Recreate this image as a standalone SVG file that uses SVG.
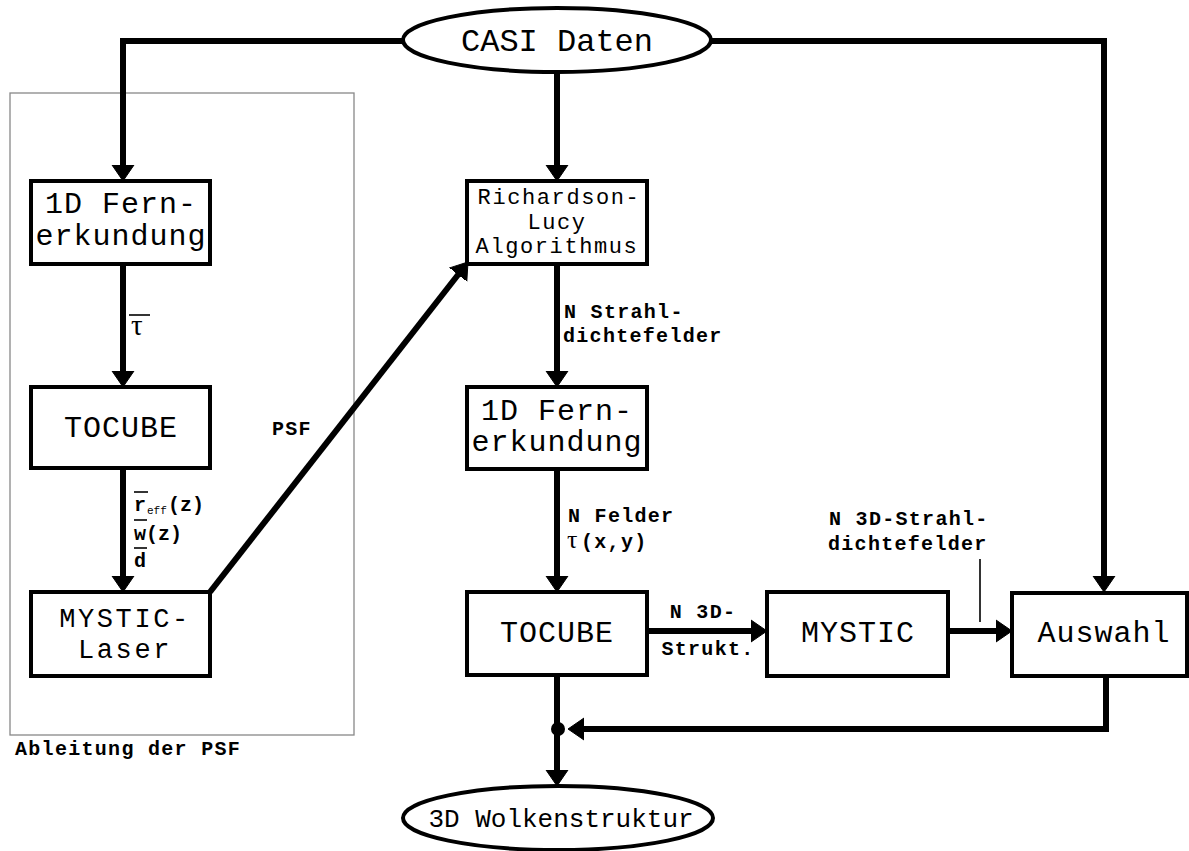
<svg xmlns="http://www.w3.org/2000/svg" width="1189" height="851" viewBox="0 0 1189 851">
  <style>
    .box { fill: #fff; stroke: #000; stroke-width: 4; }
    .ell { fill: #fff; stroke: #000; stroke-width: 4; }
    .wire { fill: none; stroke: #000; stroke-width: 6; stroke-linejoin: miter; }
    .arr { marker-end: url(#head); }
    .t { font-family: "Liberation Mono", "Courier New", monospace; fill: #000; text-anchor: middle; }
    .big { font-size: 30px; letter-spacing: 1px; }
    .tight { font-size: 27px; letter-spacing: 2.6px; }
    .mid { font-size: 22px; letter-spacing: 1.6px; }
    .lab { font-family: "Liberation Mono", "Courier New", monospace; font-size: 20px; font-weight: bold; letter-spacing: 1.3px; fill: #000; }
    .sym { font-family: "Liberation Mono", "Courier New", monospace; font-size: 20px; font-weight: bold; fill: #000; }
    .sub { font-family: "Liberation Mono", "Courier New", monospace; font-size: 11px; fill: #000; }
    .greek { font-family: "Liberation Serif", "Times New Roman", serif; fill: #000; }
    .bar { stroke: #000; stroke-width: 1.6; }
  </style>
  <defs>
    <marker id="head" markerUnits="userSpaceOnUse" markerWidth="18" markerHeight="24" refX="4" refY="11" orient="auto" viewBox="0 0 18 22">
      <path d="M0,0 L16,11 L0,22 z" fill="#000" stroke="#000" stroke-width="1" stroke-linejoin="round"/>
    </marker>
  </defs>

  <rect width="1189" height="851" fill="#fff"/>

  <!-- frame around the PSF derivation -->
  <g id="psf-frame">
    <rect x="10" y="93" width="344" height="642" fill="none" stroke="#888" stroke-width="1.3"/>
    <text class="lab" x="15" y="755">Ableitung der PSF</text>
  </g>

  <!-- connectors -->
  <g id="connectors">
    <path class="wire arr" d="M404,41 H123 V169"/>
    <path class="wire arr" d="M711,41 H1104 V580"/>
    <path class="wire arr" d="M557,72 V169"/>
    <path class="wire arr" d="M123,264 V375"/>
    <path class="wire arr" d="M123,468 V580"/>
    <path class="wire arr" d="M210,592 L460.6,271.5"/>
    <path class="wire arr" d="M557,264 V375"/>
    <path class="wire arr" d="M557,469 V580"/>
    <path class="wire arr" d="M648,631 H755"/>
    <path class="wire arr" d="M950,631 H1000"/>
    <path class="wire arr" d="M1106,676 V729 H580"/>
    <path class="wire arr" d="M557,676 V774"/>
    <circle cx="558" cy="729" r="7" fill="#000"/>
    <line x1="980" y1="559" x2="980" y2="622" stroke="#000" stroke-width="1.6"/>

    <!-- connector labels -->
    <line class="bar" x1="129" y1="315" x2="150" y2="315"/>
    <text class="greek" x="131" y="335" style="font-size:29px">τ</text>

    <line class="bar" x1="134" y1="492" x2="148" y2="492"/>
    <text class="sym" x="134" y="511">r</text>
    <text class="sub" x="147" y="514">eff</text>
    <text class="sym" x="168" y="511">(z)</text>
    <line class="bar" x1="134" y1="520" x2="147" y2="520"/>
    <text class="sym" x="134" y="540">w(z)</text>
    <line class="bar" x1="134" y1="548" x2="147" y2="548"/>
    <text class="sym" x="134" y="567">d</text>

    <text class="lab" x="272" y="435">PSF</text>

    <text class="lab" x="564" y="318">N Strahl-</text>
    <text class="lab" x="563" y="342">dichtefelder</text>

    <text class="lab" x="568" y="522">N Felder</text>
    <text class="greek" x="567" y="548" style="font-size:26px">τ</text>
    <text class="lab" x="581" y="548">(x,y)</text>

    <text class="lab" x="703" y="618" text-anchor="middle">N 3D-</text>
    <text class="lab" x="708" y="655" text-anchor="middle">Strukt.</text>

    <text class="lab" x="829" y="525">N 3D-Strahl-</text>
    <text class="lab" x="828" y="550">dichtefelder</text>
  </g>

  <!-- nodes -->
  <g id="casi">
    <ellipse class="ell" cx="557" cy="40" rx="154" ry="32"/>
    <text class="t" x="557" y="51" style="font-size:32px">CASI Daten</text>
  </g>

  <g id="fern-left">
    <rect class="box" x="31" y="181" width="179" height="83"/>
    <text class="t big" x="121" y="213">1D Fern-</text>
    <text class="t big" x="121" y="245">erkundung</text>
  </g>

  <g id="tocube-left">
    <rect class="box" x="31" y="387" width="179" height="81"/>
    <text class="t big" x="121" y="437">TOCUBE</text>
  </g>

  <g id="mystic-laser">
    <rect class="box" x="31" y="592" width="179" height="84"/>
    <text class="t tight" x="125" y="627">MYSTIC-</text>
    <text class="t tight" x="125" y="658">Laser</text>
  </g>

  <g id="richardson-lucy">
    <rect class="box" x="467" y="181" width="180" height="83"/>
    <text class="t mid" x="559" y="204">Richardson-</text>
    <text class="t mid" x="557" y="229">Lucy</text>
    <text class="t mid" x="557" y="253">Algorithmus</text>
  </g>

  <g id="fern-mid">
    <rect class="box" x="467" y="387" width="180" height="82"/>
    <text class="t big" x="557" y="420">1D Fern-</text>
    <text class="t big" x="557" y="451">erkundung</text>
  </g>

  <g id="tocube-mid">
    <rect class="box" x="467" y="592" width="180" height="83"/>
    <text class="t big" x="557" y="642">TOCUBE</text>
  </g>

  <g id="mystic">
    <rect class="box" x="767" y="592" width="181" height="84"/>
    <text class="t big" x="858" y="642">MYSTIC</text>
  </g>

  <g id="auswahl">
    <rect class="box" x="1012" y="593" width="175" height="83"/>
    <text class="t big" x="1104" y="642">Auswahl</text>
  </g>

  <g id="wolkenstruktur">
    <ellipse class="ell" cx="558" cy="818" rx="155" ry="32"/>
    <text class="t" x="561" y="827" style="font-size:26px">3D Wolkenstruktur</text>
  </g>
</svg>
